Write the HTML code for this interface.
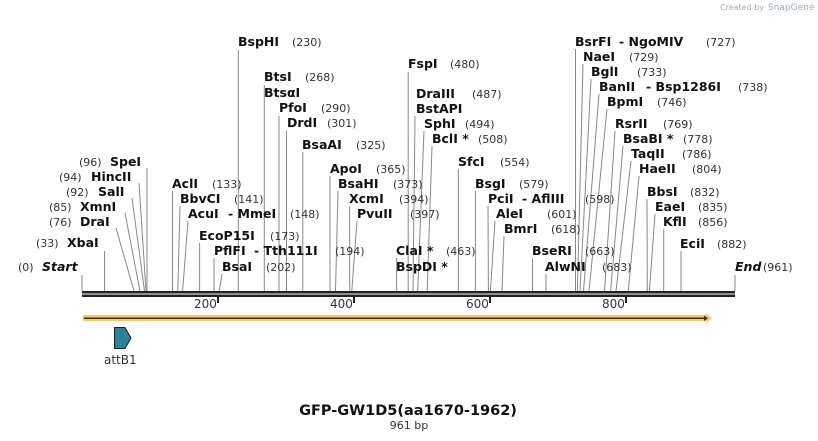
<!DOCTYPE html>
<html><head><meta charset="utf-8"><style>
body{margin:0;background:#fff;width:818px;height:441px;overflow:hidden}
svg{display:block}
.n{font-family:"DejaVu Sans","Liberation Sans",sans-serif;font-weight:bold;font-size:12.5px;fill:#111}
.p{font-family:"DejaVu Sans","Liberation Sans",sans-serif;font-size:11px;fill:#333}
line.c{stroke:#888;stroke-width:1}
</style></head><body>
<svg width="818" height="441" xmlns="http://www.w3.org/2000/svg">
<text x="720" y="10" style="font-family:'DejaVu Sans',sans-serif;font-size:8px;fill:#aaa">Created by</text>
<text x="768" y="10" style="font-family:'DejaVu Sans',sans-serif;font-size:9px;fill:#9ab">SnapGene</text>
<g>
<line class="c" x1="82" y1="275" x2="82" y2="291"/>
<line class="c" x1="104.6" y1="251" x2="104.6" y2="291"/>
<line class="c" x1="116" y1="228" x2="134" y2="291"/>
<line class="c" x1="125" y1="213" x2="140" y2="291"/>
<line class="c" x1="132" y1="198" x2="144.5" y2="291"/>
<line class="c" x1="139" y1="183" x2="146" y2="291"/>
<line class="c" x1="147" y1="168" x2="147" y2="291"/>
<line class="c" x1="172.5" y1="191" x2="172.5" y2="291"/>
<line class="c" x1="180" y1="206" x2="177.8" y2="291"/>
<line class="c" x1="188" y1="221" x2="182.6" y2="291"/>
<line class="c" x1="199.6" y1="243" x2="199.6" y2="291"/>
<line class="c" x1="214" y1="258" x2="214" y2="291"/>
<line class="c" x1="222" y1="274" x2="219.3" y2="291"/>
<line class="c" x1="238.3" y1="50" x2="238.3" y2="291"/>
<line class="c" x1="264.3" y1="85" x2="264.3" y2="291"/>
<line class="c" x1="279" y1="116" x2="279" y2="291"/>
<line class="c" x1="286.5" y1="131" x2="286.5" y2="291"/>
<line class="c" x1="302.8" y1="152" x2="302.8" y2="291"/>
<line class="c" x1="330" y1="176" x2="330" y2="291"/>
<line class="c" x1="338" y1="191" x2="335.5" y2="291"/>
<line class="c" x1="349.7" y1="206" x2="349.7" y2="291"/>
<line class="c" x1="357" y1="221" x2="351.8" y2="291"/>
<line class="c" x1="396.6" y1="258" x2="396.6" y2="291"/>
<line class="c" x1="408.2" y1="72" x2="408.2" y2="291"/>
<line class="c" x1="415" y1="116" x2="413" y2="291"/>
<line class="c" x1="424" y1="131" x2="417.7" y2="291"/>
<line class="c" x1="432" y1="146" x2="427.2" y2="291"/>
<line class="c" x1="458.4" y1="169" x2="458.4" y2="291"/>
<line class="c" x1="475.4" y1="191" x2="475.4" y2="291"/>
<line class="c" x1="488" y1="206" x2="488.4" y2="291"/>
<line class="c" x1="495" y1="221" x2="490.4" y2="291"/>
<line class="c" x1="504" y1="236" x2="502" y2="291"/>
<line class="c" x1="532.5" y1="258" x2="532.5" y2="291"/>
<line class="c" x1="546" y1="274" x2="546" y2="291"/>
<line class="c" x1="575.5" y1="49" x2="575.5" y2="291"/>
<line class="c" x1="583" y1="64" x2="577.4" y2="291"/>
<line class="c" x1="591" y1="79" x2="580" y2="291"/>
<line class="c" x1="599" y1="94" x2="583.5" y2="291"/>
<line class="c" x1="607" y1="109" x2="589" y2="291"/>
<line class="c" x1="615" y1="131" x2="604.5" y2="291"/>
<line class="c" x1="623" y1="146" x2="610.6" y2="291"/>
<line class="c" x1="631" y1="161" x2="616" y2="291"/>
<line class="c" x1="639" y1="176" x2="628.3" y2="291"/>
<line class="c" x1="647" y1="199" x2="647.3" y2="291"/>
<line class="c" x1="655" y1="214" x2="649.4" y2="291"/>
<line class="c" x1="663.7" y1="229" x2="663.7" y2="291"/>
<line class="c" x1="681" y1="251" x2="681" y2="291"/>
<line class="c" x1="735" y1="275" x2="735" y2="291"/>
</g>
<rect x="82" y="291" width="653" height="2.5" fill="#222"/>
<rect x="82" y="294.5" width="653" height="2.5" fill="#222"/>
<rect x="217" y="297" width="2" height="6" fill="#222"/>
<rect x="353" y="297" width="2" height="6" fill="#222"/>
<rect x="489" y="297" width="2" height="6" fill="#222"/>
<rect x="625" y="297" width="2" height="6" fill="#222"/>
<text class="p" x="194" y="308" style="font-size:12px">200</text>
<text class="p" x="330" y="308" style="font-size:12px">400</text>
<text class="p" x="466" y="308" style="font-size:12px">600</text>
<text class="p" x="602" y="308" style="font-size:12px">800</text>
<rect x="83" y="315" width="624" height="6" fill="#f7c873"/>
<polygon points="706,313 712,318 706,323" fill="#f7c873"/>
<rect x="84" y="317.5" width="622" height="1.5" fill="#3a3020"/>
<polygon points="704,315.5 708,318.2 704,321" fill="#3a3020"/>
<polygon points="114.5,327.5 125,327.5 131,338 125,348.5 114.5,348.5" fill="#2e7f99" stroke="#222" stroke-width="1"/>
<text class="p" x="104" y="364" style="font-size:12px">attB1</text>
<text x="408" y="415" text-anchor="middle" style="font-family:'DejaVu Sans',sans-serif;font-weight:bold;font-size:14.5px;fill:#111">GFP-GW1D5(aa1670-1962)</text>
<text class="p" x="409" y="429" text-anchor="middle">961 bp</text>

<text class="p" x="18" y="271">(0)</text><text class="n" x="42" y="271" font-style="italic">Start</text>
<text class="p" x="36" y="247">(33)</text><text class="n" x="67" y="247">XbaI</text>
<text class="p" x="49" y="226">(76)</text><text class="n" x="80" y="226">DraI</text>
<text class="p" x="49" y="211">(85)</text><text class="n" x="80" y="211">XmnI</text>
<text class="p" x="66" y="196">(92)</text><text class="n" x="98" y="196">SalI</text>
<text class="p" x="59" y="181">(94)</text><text class="n" x="91" y="181">HincII</text>
<text class="p" x="79" y="166">(96)</text><text class="n" x="110" y="166">SpeI</text>

<text class="n" x="172" y="188">AclI</text><text class="p" x="212" y="188">(133)</text>
<text class="n" x="180" y="203">BbvCI</text><text class="p" x="234" y="203">(141)</text>
<text class="n" x="188" y="218">AcuI</text><text class="n" x="228" y="218">- MmeI</text><text class="p" x="290" y="218">(148)</text>
<text class="n" x="199" y="240">EcoP15I</text><text class="p" x="270" y="240">(173)</text>
<text class="n" x="214" y="255">PflFI</text><text class="n" x="254" y="255">- Tth111I</text><text class="p" x="335" y="255">(194)</text>
<text class="n" x="222" y="271">BsaI</text><text class="p" x="266" y="271">(202)</text>
<text class="n" x="238" y="46">BspHI</text><text class="p" x="292" y="46">(230)</text>
<text class="n" x="264" y="81">BtsI</text><text class="p" x="305" y="81">(268)</text>
<text class="n" x="264" y="97">BtsαI</text>
<text class="n" x="279" y="112">PfoI</text><text class="p" x="321" y="112">(290)</text>
<text class="n" x="287" y="127">DrdI</text><text class="p" x="327" y="127">(301)</text>
<text class="n" x="302" y="149">BsaAI</text><text class="p" x="356" y="149">(325)</text>
<text class="n" x="330" y="173">ApoI</text><text class="p" x="376" y="173">(365)</text>
<text class="n" x="338" y="188">BsaHI</text><text class="p" x="393" y="188">(373)</text>
<text class="n" x="349" y="203">XcmI</text><text class="p" x="399" y="203">(394)</text>
<text class="n" x="357" y="218">PvuII</text><text class="p" x="410" y="218">(397)</text>
<text class="n" x="396" y="255">ClaI *</text><text class="p" x="446" y="255">(463)</text>
<text class="n" x="396" y="271">BspDI *</text>
<text class="n" x="408" y="68">FspI</text><text class="p" x="450" y="68">(480)</text>
<text class="n" x="416" y="98">DraIII</text><text class="p" x="472" y="98">(487)</text>
<text class="n" x="416" y="113">BstAPI</text>
<text class="n" x="424" y="128">SphI</text><text class="p" x="465" y="128">(494)</text>
<text class="n" x="432" y="143">BclI *</text><text class="p" x="478" y="143">(508)</text>
<text class="n" x="458" y="166">SfcI</text><text class="p" x="500" y="166">(554)</text>
<text class="n" x="475" y="188">BsgI</text><text class="p" x="519" y="188">(579)</text>
<text class="n" x="488" y="203">PciI</text><text class="n" x="522" y="203">- AflIII</text><text class="p" x="585" y="203">(598)</text>
<text class="n" x="496" y="218">AleI</text><text class="p" x="547" y="218">(601)</text>
<text class="n" x="504" y="233">BmrI</text><text class="p" x="551" y="233">(618)</text>
<text class="n" x="532" y="255">BseRI</text><text class="p" x="585" y="255">(663)</text>
<text class="n" x="545" y="271">AlwNI</text><text class="p" x="602" y="271">(683)</text>
<text class="n" x="575" y="46">BsrFI</text><text class="n" x="619" y="46">- NgoMIV</text><text class="p" x="706" y="46">(727)</text>
<text class="n" x="583" y="61">NaeI</text><text class="p" x="629" y="61">(729)</text>
<text class="n" x="591" y="76">BglI</text><text class="p" x="637" y="76">(733)</text>
<text class="n" x="599" y="91">BanII</text><text class="n" x="646" y="91">- Bsp1286I</text><text class="p" x="738" y="91">(738)</text>
<text class="n" x="607" y="106">BpmI</text><text class="p" x="657" y="106">(746)</text>
<text class="n" x="615" y="128">RsrII</text><text class="p" x="663" y="128">(769)</text>
<text class="n" x="623" y="143">BsaBI *</text><text class="p" x="683" y="143">(778)</text>
<text class="n" x="631" y="158">TaqII</text><text class="p" x="682" y="158">(786)</text>
<text class="n" x="639" y="173">HaeII</text><text class="p" x="692" y="173">(804)</text>
<text class="n" x="647" y="196">BbsI</text><text class="p" x="690" y="196">(832)</text>
<text class="n" x="655" y="211">EaeI</text><text class="p" x="698" y="211">(835)</text>
<text class="n" x="663" y="226">KflI</text><text class="p" x="698" y="226">(856)</text>
<text class="n" x="680" y="248">EciI</text><text class="p" x="717" y="248">(882)</text>
<text class="n" x="735" y="271" font-style="italic">End</text><text class="p" x="763" y="271">(961)</text>
</svg>
</body></html>
